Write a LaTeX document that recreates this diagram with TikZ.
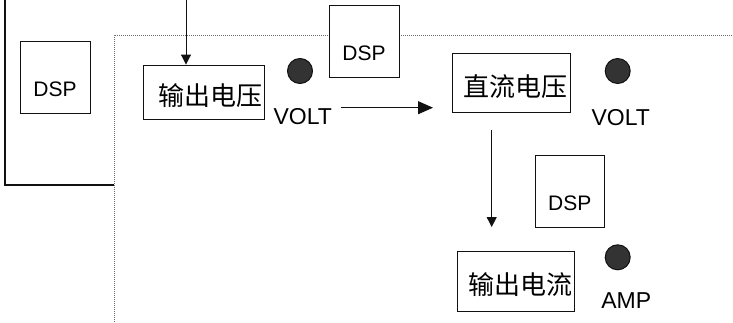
\documentclass[tikz,border=0pt]{standalone}
\usepackage{fontspec}
\setmainfont{Liberation Sans}
\newfontfamily\cjk{Noto Sans CJK SC}
\usepackage{xcolor}
\definecolor{cLine}{HTML}{111111}
\definecolor{cDot}{HTML}{6A6A6A}
\definecolor{cKnob}{HTML}{333333}
\usetikzlibrary{arrows.meta}
\tikzset{
  node-dsp/.style={draw=cLine,fill=white,line width=0.9pt,inner sep=0pt,
    minimum width=70pt,minimum height=72pt,
    font=\fontsize{21}{24}\selectfont,text height=39pt,text depth=0pt},
  % 中文框：文字靠右，基线略低于框中心
  node-cn/.style={draw=cLine,fill=white,line width=0.9pt,inner xsep=2pt,
    inner ysep=0pt,align=right,text width=#1,
    font=\cjk\fontsize{26}{30}\selectfont,text height=27pt,text depth=0pt},
  node-knob/.style={circle,draw=cLine,fill=cKnob,line width=1pt,
    inner sep=0pt,minimum size=25pt},
  node-unit/.style={anchor=base,inner sep=0pt,font=\fontsize{23}{26}\selectfont},
  arrow/.style={-{Triangle[length=10pt,width=10pt]},line width=0.9pt,draw=cLine},
  arrow-big/.style={-{Triangle[length=15pt,width=13pt]},line width=0.9pt,draw=cLine},
  frame-thick/.style={line width=2pt,draw=cLine},
  frame-dot/.style={line width=1pt,dash pattern=on 1pt off 1pt,draw=cDot},
}
\begin{document}
\begin{tikzpicture}[x=1pt,y=-1pt]
  \useasboundingbox (0,0) rectangle (733,322);
  \draw[frame-thick] (5,0) -- (5,185) -- (114,185);
  \draw[frame-dot] (114,322) -- (114,35) -- (733,35);

  \node[node-dsp] (dspL) at (55,77) {DSP};
  \node[node-dsp] (dspT) at (364,41) {DSP};
  \node[node-dsp,minimum width=69pt] (dspB) at (569.8,191.3) {DSP};

  \node[node-cn=116.7pt,minimum height=54pt] (outV) at (203.7,92) {输出电压};
  \node[node-cn=113.3pt,minimum height=59.4pt] (dcV) at (511.3,83) {直流电压};
  \node[node-cn=113.3pt,minimum height=60pt] (outI) at (515.7,281.3) {输出电流};

  \node[node-knob] (knobV1) at (300,71) {};
  \node[node-knob] (knobV2) at (617.7,71) {};
  \node[node-knob] (knobA) at (617.7,257.3) {};

  \node[node-unit] (volt1) at (302.7,124) {VOLT};
  \node[node-unit] (volt2) at (620.8,125) {VOLT};
  \node[node-unit] (amp) at (626.3,308.3) {AMP};

  \coordinate (inTop) at (186,0);
  \coordinate (hA) at (341,107.7);
  \coordinate (hB) at (433,107.7);
  \coordinate (vA) at (491.7,130);
  \coordinate (vB) at (491.7,227);
  \draw[arrow] (inTop) -- (inTop |- outV.north);
  \draw[arrow-big] (hA) -- (hB);
  \draw[arrow] (vA) -- (vB);
\end{tikzpicture}
\end{document}
